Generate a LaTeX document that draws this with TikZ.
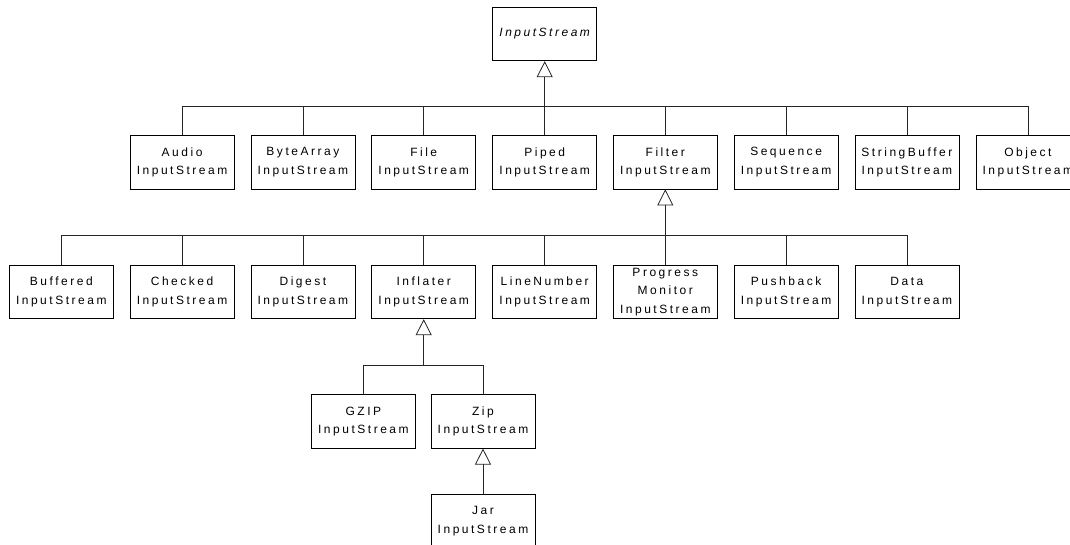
\documentclass[tikz,border=0pt]{standalone}
\usepackage{fontspec}
\setmainfont{Liberation Sans}[LetterSpace=21]
\usetikzlibrary{arrows.meta}
\begin{document}
\begin{tikzpicture}[x=1pt,y=-1pt,
  cls/.style={draw=black, line width=0.8pt, minimum width=104pt, minimum height=53.5pt,
    inner sep=0pt, align=center, font=\fontsize{12}{18.4}\selectfont},
  link/.style={draw=black!85, line width=0.8pt},
  inh/.style={link, -{Triangle[length=16pt,width=16pt,fill=white,line width=0.8pt]}}]
\clip (0,0) rectangle (1070,544);
\fill[white] (0,0) rectangle (1070,544);
% top
\node[cls] (is) at (544.7,34) {\itshape InputStream};
% row 1
\node[cls] (audio) at (182.1,162.2) {Audio\\InputStream};
\node[cls] (bytearray) at (302.9,162.2) {ByteArray\\InputStream};
\node[cls] (file) at (423.7,162.2) {File\\InputStream};
\node[cls] (piped) at (544.7,162.2) {Piped\\InputStream};
\node[cls] (filter) at (665.3,162.2) {Filter\\InputStream};
\node[cls] (sequence) at (786.1,162.2) {Sequence\\InputStream};
\node[cls] (stringbuffer) at (906.9,162.2) {StringBuffer\\InputStream};
\node[cls] (object) at (1027.9,162.2) {Object\\InputStream};
% row 2
\node[cls] (buffered) at (61.3,292) {Buffered\\InputStream};
\node[cls] (checked) at (182.1,292) {Checked\\InputStream};
\node[cls] (digest) at (302.9,292) {Digest\\InputStream};
\node[cls] (inflater) at (423.7,292) {Inflater\\InputStream};
\node[cls] (linenumber) at (544.7,292) {LineNumber\\InputStream};
\node[cls] (progress) at (665.3,292) {Progress\\Monitor\\InputStream};
\node[cls] (pushback) at (786.1,292) {Pushback\\InputStream};
\node[cls] (data) at (906.9,292) {Data\\InputStream};
% row 3
\node[cls] (gzip) at (363.4,421.4) {GZIP\\InputStream};
\node[cls] (zip) at (483,421.4) {Zip\\InputStream};
% row 4
\node[cls] (jar) at (483,521) {Jar\\InputStream};
% buses
\coordinate (b1) at (544.7,106.7);
\coordinate (b2) at (665.3,235.5);
\coordinate (b3) at (423.7,365);
\foreach \c in {audio,bytearray,file,piped,filter,sequence,stringbuffer,object}
  \draw[link] (\c.north) |- (b1);
\draw[inh] (b1) -- (is.south);
\foreach \c in {buffered,checked,digest,inflater,linenumber,progress,pushback,data}
  \draw[link] (\c.north) |- (b2);
\draw[inh] (b2) -- (filter.south);
\foreach \c in {gzip,zip}
  \draw[link] (\c.north) |- (b3);
\draw[inh] (b3) -- (inflater.south);
\draw[inh] (jar.north) -- (zip.south);
\end{tikzpicture}
\end{document}
